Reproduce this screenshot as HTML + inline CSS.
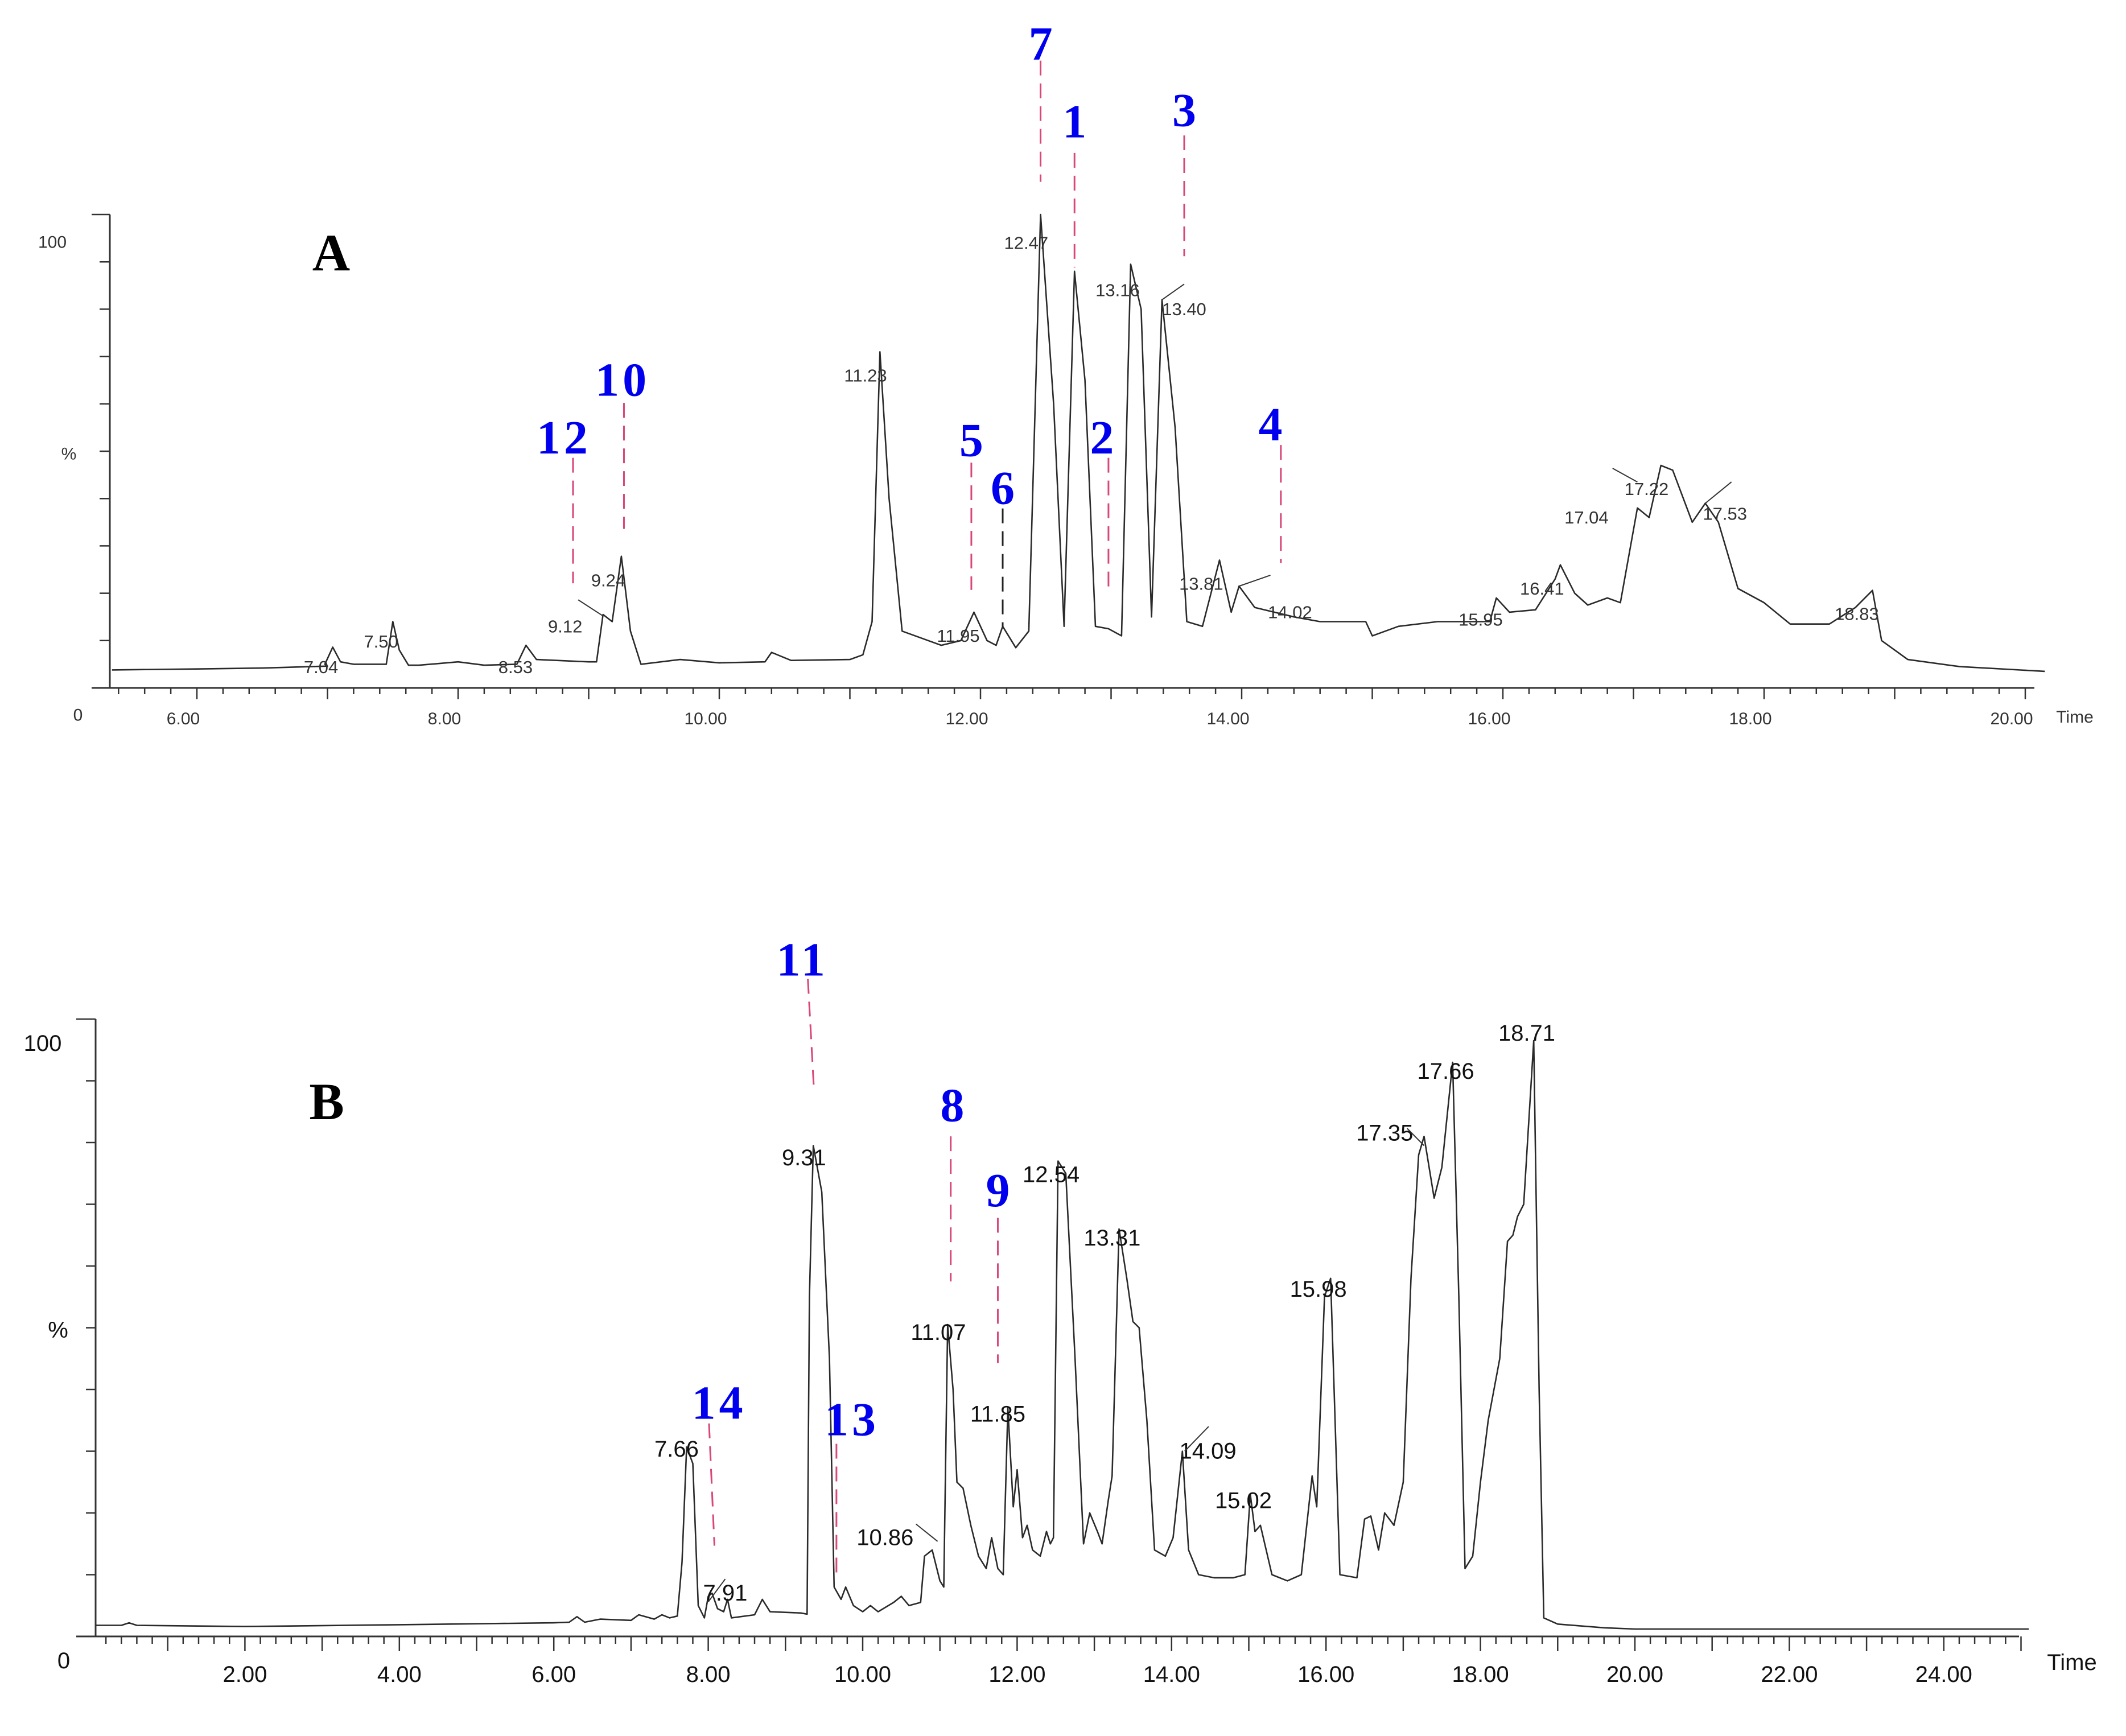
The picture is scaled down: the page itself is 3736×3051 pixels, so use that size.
<!DOCTYPE html>
<html><head><meta charset="utf-8"><style>
html,body{margin:0;padding:0;background:#fff}
svg{display:block}
</style></head><body>
<svg id="chart" xmlns="http://www.w3.org/2000/svg" width="3736" height="3051" viewBox="0 0 3736 3051">
<rect width="3736" height="3051" fill="#fff"/>
<g id="pa"></g>
<g id="pb"></g>
</svg>
<script>
// ---------- Panel A data ----------
const timeA=[5.35,6.0,6.5,7.0,6.98,7.04,7.1,7.2,7.45,7.5,7.55,7.62,7.7,8.0,8.2,8.45,8.52,8.6,9.0,9.06,9.11,9.18,9.25,9.32,9.4,9.7,10.0,10.35,10.4,10.55,11.0,11.1,11.17,11.23,11.3,11.4,11.7,11.85,11.95,12.05,12.12,12.17,12.27,12.37,12.46,12.56,12.64,12.72,12.8,12.88,12.98,13.08,13.15,13.23,13.31,13.39,13.49,13.58,13.7,13.83,13.92,13.98,14.1,14.4,14.6,14.95,15.0,15.2,15.5,15.7,15.9,15.95,16.05,16.25,16.4,16.44,16.55,16.65,16.8,16.9,17.03,17.12,17.21,17.3,17.45,17.55,17.65,17.8,18.0,18.2,18.5,18.7,18.83,18.9,19.1,19.5,20.15];
const valA=[3.8,4,4.2,4.6,5,8.6,5.5,5,5,14,8,4.8,4.8,5.5,4.8,5,9,6,5.5,5.5,15.5,14,27.8,12,5,6,5.3,5.5,7.5,5.8,6,7,14,71,40,12,9,10,16,10,9,13,8.5,12,100,60,13,88,65,13,12.5,11,89.5,80,15,82,55,14,13,27,16,21.5,17,15,14,14,11,13,14,14,14,19,16,16.5,23,26,20,17.5,19,18,38,36,47,46,35,39,35,21,18,13.5,13.5,17,20.6,10,6,4.5,3.5];
const peakTextA=["7.04","7.50","8.53","9.12","9.24","11.23","11.95","12.47","13.16","13.40","13.81","14.02","15.95","16.41","17.04","17.22","17.53","18.83"];
const peakTA=[6.95,7.41,8.44,8.82,9.15,11.12,11.83,12.35,13.05,13.56,13.69,14.37,15.83,16.30,16.64,17.10,17.70,18.71];
const peakPA=[4.4,9.8,4.4,13,22.7,66,11,94,84,80,22,16,14.4,21,36,42,36.8,15.6];
const cmpTextA=["7","1","3","12","10","5","6","2","4"];
const cmpTA=[12.46,12.72,13.56,8.81,9.26,11.93,12.17,12.93,14.22];
const cmpPA=[136,119.6,122,52.8,65,52.3,42.2,52.8,55.6];
const cmpLineTA=[12.46,12.72,13.56,8.88,9.27,11.93,12.17,12.98,14.3];
const cmpLineTopA=[132.5,113,116.7,48.6,60.2,47.6,37.9,48.6,51.3];
const cmpLineBotA=[106.9,88.8,91.2,22.1,33.6,20.7,13,19.9,26.4];
const cmpColorA=["#d8467a","#d8467a","#d8467a","#d8467a","#d8467a","#d8467a","#222","#d8467a","#d8467a"];
const leadA=[[8.92,18.6,9.11,15.2],[13.39,82,13.56,85.3],[13.98,21.5,14.22,23.8],[16.84,46.4,17.03,43.5],[17.55,39,17.75,43.5]];
// ---------- Panel B data ----------
const timeB=[0.07,0.4,0.5,0.6,2,4,6,6.2,6.3,6.4,
 6.6,7.0,7.1,7.3,7.4,7.5,7.6,7.66,7.72,7.8,
 7.87,7.95,8.0,8.05,8.12,8.2,8.25,8.3,8.6,8.7,
 8.8,9.2,9.28,9.31,9.36,9.47,9.57,9.63,9.72,9.78,
 9.88,10.0,10.1,10.2,10.4,10.5,10.6,10.75,10.8,10.9,
 11.0,11.05,11.1,11.17,11.22,11.3,11.4,11.5,11.6,11.67,
 11.75,11.82,11.88,11.95,12.0,12.07,12.13,12.2,12.3,12.38,
 12.43,12.47,12.53,12.63,12.75,12.86,12.94,13.04,13.1,13.18,
 13.23,13.32,13.42,13.5,13.58,13.68,13.78,13.92,14.02,14.14,
 14.22,14.35,14.55,14.8,14.95,15.02,15.08,15.15,15.3,15.5,
 15.68,15.75,15.82,15.88,15.98,16.06,16.18,16.4,16.5,16.58,
 16.68,16.76,16.88,17.0,17.1,17.2,17.27,17.4,17.5,17.64,
 17.72,17.8,17.9,18.0,18.1,18.25,18.35,18.42,18.48,18.56,
 18.69,18.76,18.82,19.0,19.6,20,25.1];
const valB=[1.8,1.8,2.2,1.8,1.6,1.9,2.2,2.3,3.2,2.3,
 2.8,2.6,3.5,2.8,3.5,3.0,3.3,12,30.7,28,
 5,3,6.5,7,4.5,4,6,3,3.5,6,
 4,3.8,3.6,55,79.5,72,45,8,6,8,
 5,4,5,4,5.5,6.5,5,5.5,13,14,
 9,8,50.5,40,25,24,18,13,11,16,
 11,10,37,21,27,16,18,14,13,17,
 15,16,77,75,45,15,20,17,15,22,
 26,66,58,51,50,35,14,13,16,30,
 14,10,9.5,9.5,10,23,17,18,10,9,
 10,18,26,21,55,58,10,9.5,19,19.5,
 14,20,18,25,58,78,81,71,76,93,
 55,11,13,25,35,45,64,65,68,70,
 96.5,40,3,2,1.4,1.2,1.2];
const peakTextB=["7.66","7.91","9.31","10.86","11.07","11.85","12.54","13.31","14.09","15.02","15.98","17.35","17.66","18.71"];
const peakTB=[7.59,8.22,9.24,10.29,10.98,11.75,12.44,13.23,14.47,14.93,15.90,16.76,17.55,18.60];
const peakPB=[30.3,7,77.5,16,49.2,36,74.8,64.5,30,22,56.2,81.5,91.5,97.7];
const cmpTextB=["11","8","9","14","13"];
const cmpTB=[9.22,11.16,11.75,8.14,9.86];
const cmpPB=[109.6,86,72.2,37.8,35.1];
const cmpLineT1B=[9.29,11.14,11.75,8.01,9.66];
const cmpLineT2B=[9.37,11.14,11.75,8.08,9.66];
const cmpLineTopB=[106.5,81,67.8,34.5,31.2];
const cmpLineBotB=[88.3,57.5,44.3,14.7,9.2];
const leadB=[[8.0,5.6,8.22,9.3],[10.69,18.2,10.97,15.4],[14.17,30,14.48,34],[17.05,82.3,17.27,79.5]];
const tickLabelsA=["6.00","8.00","10.00","12.00","14.00","16.00","18.00","20.00"];
const tickLabelsB=["2.00","4.00","6.00","8.00","10.00","12.00","14.00","16.00","18.00","20.00","22.00","24.00"];

const NS="http://www.w3.org/2000/svg";
function mk(tag,attrs,parent,text){const e=document.createElementNS(NS,tag);for(const k in attrs)e.setAttribute(k,attrs[k]);if(text!==undefined)e.textContent=text;parent.appendChild(e);return e;}

const xA=t=>346+(t-6)*229.5, yA=p=>1209-p*8.32;
const xB=t=>159+t*135.7, yB=p=>2876-p*10.85;

function drawPanel(g,xf,yf,cfg){
  let e=mk('line',{x1:cfg.ax,y1:yf(100),x2:cfg.ax,y2:yf(0),stroke:'#333','stroke-width':3},g);
  
  
  for(let i=0;i<=10;i++){
    const long=(i===0||i===10);
    e=mk('line',{x1:cfg.ax-(long?cfg.ytl:cfg.yts),y1:yf(i*10),x2:cfg.ax,y2:yf(i*10),stroke:'#333','stroke-width':2.5},g);
    
    
  }
  e=mk('line',{x1:cfg.ax-cfg.ytl,y1:yf(0),x2:cfg.xend,y2:yf(0),stroke:'#333','stroke-width':3},g);
  
  
  for(let k=Math.ceil(cfg.t0*5);k<=Math.floor(cfg.t1*5);k++){
    const t=k/5, major=(k%5===0);
    e=mk('line',{x1:xf(t),y1:yf(0),x2:xf(t),y2:yf(0)+(major?cfg.xtl:cfg.xts),stroke:'#333','stroke-width':2.5},g);
    
    
  }
  cfg.ticks.forEach(s=>{
    const t=parseFloat(s);
    e=mk('text',{x:xf(t)-cfg.lblShift,y:yf(0)+cfg.lblDy,'text-anchor':'middle','font-family':'Liberation Sans, sans-serif','font-size':cfg.fs,fill:cfg.tc},g,s);
    
    
  });
  [['100',cfg.l100],['%',cfg.lpct],['0',cfg.l0]].forEach(a=>{
    e=mk('text',{x:a[1][0],y:a[1][1],'text-anchor':'middle','dominant-baseline':'central','font-family':'Liberation Sans, sans-serif','font-size':cfg.fs,fill:cfg.tc},g,a[0]);
    
    
  });
  e=mk('text',{x:cfg.timePos[0],y:cfg.timePos[1],'text-anchor':'middle','font-family':'Liberation Sans, sans-serif','font-size':cfg.fs,fill:cfg.tc},g,'Time');
  
  
  let d='';
  const n=Math.min(cfg.times.length,cfg.vals.length);
  for(let i=0;i<n;i++){d+=(i?'L':'M')+xf(cfg.times[i]).toFixed(1)+' '+yf(cfg.vals[i]).toFixed(1);}
  e=mk('path',{d:d,fill:'none',stroke:'#2a2a2a','stroke-width':2.6,'stroke-linejoin':'round'},g);
  
  
  cfg.pText.forEach((s,i)=>{
    e=mk('text',{x:xf(cfg.pT[i]),y:yf(cfg.pP[i]),'text-anchor':'middle','dominant-baseline':'central','font-family':'Liberation Sans, sans-serif','font-size':cfg.pfs,fill:cfg.pc},g,s);
    
    
  });
  cfg.leads.forEach(l=>{
    e=mk('line',{x1:xf(l[0]),y1:yf(l[1]),x2:xf(l[2]),y2:yf(l[3]),stroke:'#333','stroke-width':2},g);
    
    
  });
}

const ga=document.getElementById('pa'), gb=document.getElementById('pb');
drawPanel(ga,xA,yA,{ax:193,ytl:32,yts:18,xend:3575,t0:5.4,t1:20.1,xtl:20,xts:11,ticks:tickLabelsA,lblShift:24,lblDy:64,fs:30,tc:'#333',
  l100:[92,426],lpct:[121,798],l0:[137,1257],timePos:[3646,1270],times:timeA,vals:valA,pText:peakTextA,pT:peakTA,pP:peakPA,pfs:31,pc:'#333',leads:leadA});
drawPanel(gb,xB,yB,{ax:168,ytl:34,yts:17,xend:3548,t0:0.2,t1:25.0,xtl:26,xts:13,ticks:tickLabelsB,lblShift:0,lblDy:80,fs:40,tc:'#111',
  l100:[75,1834],lpct:[102,2338],l0:[112,2919],timePos:[3641,2935],times:timeB,vals:valB,pText:peakTextB,pT:peakTB,pP:peakPB,pfs:40,pc:'#111',leads:leadB});

function drawCmp(g,xf,yf,texts,ts,ps,lt1,lt2,top,bot,colors){
  texts.forEach((s,i)=>{
    let e=mk('text',{x:xf(ts[i]),y:yf(ps[i]),'text-anchor':'middle','dominant-baseline':'central','font-family':'Liberation Serif, serif','font-weight':'bold','font-size':84,fill:'#0000ee','letter-spacing':s.length>1?6:0},g,s);
    
    
    e=mk('line',{x1:xf(lt1[i]),y1:yf(top[i]),x2:xf(lt2[i]),y2:yf(bot[i]),stroke:colors[i],'stroke-width':3,'stroke-dasharray':'26 14'},g);
    
    
  });
}
drawCmp(ga,xA,yA,cmpTextA,cmpTA,cmpPA,cmpLineTA,cmpLineTA,cmpLineTopA,cmpLineBotA,cmpColorA);
drawCmp(gb,xB,yB,cmpTextB,cmpTB,cmpPB,cmpLineT1B,cmpLineT2B,cmpLineTopB,cmpLineBotB,cmpTextB.map(()=>"#d8467a"));

let pl=mk('text',{x:582,y:444,'text-anchor':'middle','dominant-baseline':'central','font-family':'Liberation Serif, serif','font-weight':'bold','font-size':92,fill:'#000'},ga,'A');


pl=mk('text',{x:574,y:1936,'text-anchor':'middle','dominant-baseline':'central','font-family':'Liberation Serif, serif','font-weight':'bold','font-size':92,fill:'#000'},gb,'B');


</script>
</body></html>
